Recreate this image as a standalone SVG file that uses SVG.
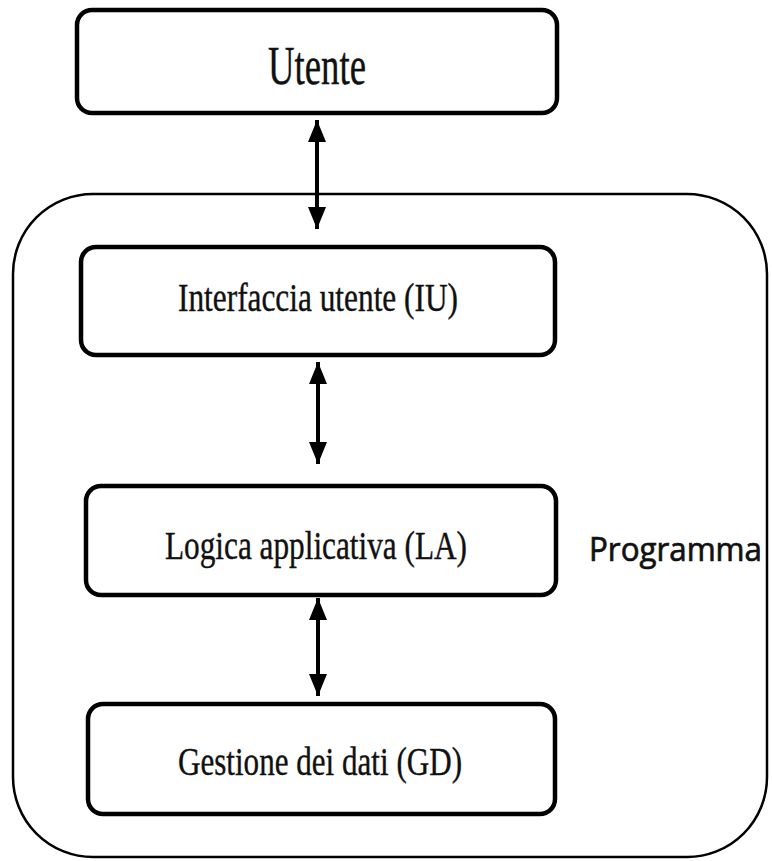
<svg xmlns="http://www.w3.org/2000/svg" width="772" height="861" viewBox="0 0 772 861">
<style>
.box{fill:#fff;stroke:#000;stroke-width:4.5}
.lbl{font-family:"Liberation Serif","Times New Roman",serif;fill:#111;stroke:#111;stroke-width:0.4;text-anchor:middle}
.conn{stroke:#000;stroke-width:4;fill:none}
</style>
<defs>
<marker id="ah" viewBox="0 0 22 18" refX="22" refY="9" markerWidth="22" markerHeight="18" markerUnits="userSpaceOnUse" orient="auto-start-reverse">
<path d="M0,0 L22,9 L0,18 z" fill="#000"/>
</marker>
</defs>
<rect width="772" height="861" fill="#fff"/>
<g id="programma">
<rect x="13" y="194" width="754" height="663" rx="80" ry="80" fill="none" stroke="#000" stroke-width="2.5"/>
<text x="589" y="561" font-family="Open Sans, Liberation Sans, sans-serif" font-size="32" fill="#111" stroke="#111" stroke-width="0.7" textLength="173" lengthAdjust="spacingAndGlyphs">Programma</text>
</g>
<g id="utente">
<rect class="box" x="77" y="10" width="480" height="103" rx="15"/>
<text class="lbl" x="317" y="84" font-size="54" textLength="98" lengthAdjust="spacingAndGlyphs">Utente</text>
</g>
<g id="iu">
<rect class="box" x="81" y="247" width="474" height="108" rx="15"/>
<text class="lbl" x="318" y="311" font-size="40" textLength="280" lengthAdjust="spacingAndGlyphs">Interfaccia utente (IU)</text>
</g>
<g id="la">
<rect class="box" x="86" y="486" width="470" height="109" rx="15"/>
<text class="lbl" x="316" y="559" font-size="41" textLength="302" lengthAdjust="spacingAndGlyphs">Logica applicativa (LA)</text>
</g>
<g id="gd">
<rect class="box" x="88" y="704" width="467" height="110" rx="15"/>
<text class="lbl" x="320" y="775" font-size="41" textLength="284" lengthAdjust="spacingAndGlyphs">Gestione dei dati (GD)</text>
</g>
<g id="connectors">
<line class="conn" x1="317" y1="120" x2="317" y2="229" marker-start="url(#ah)" marker-end="url(#ah)"/>
<line class="conn" x1="318" y1="362" x2="318" y2="464" marker-start="url(#ah)" marker-end="url(#ah)"/>
<line class="conn" x1="318" y1="598" x2="318" y2="696" marker-start="url(#ah)" marker-end="url(#ah)"/>
</g>
</svg>
